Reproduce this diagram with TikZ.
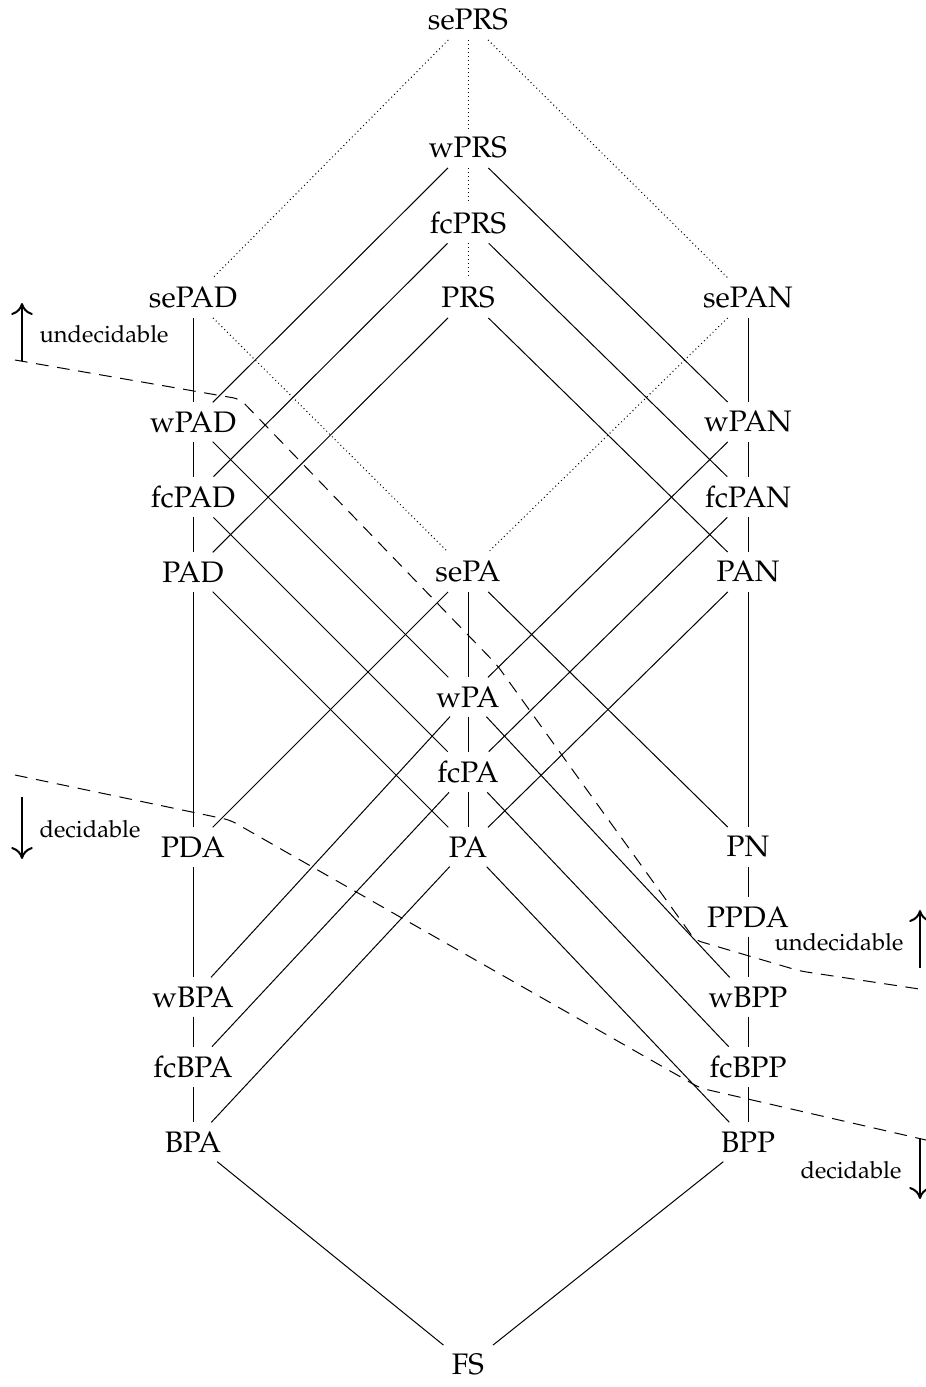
\documentclass[tikz,border=0pt]{standalone}
\usepackage[T1]{fontenc}
\usepackage{mathpazo}
\usetikzlibrary{arrows.meta}

\tikzset{
  cls/.style={font=\fontsize{8.9}{10}\selectfont, inner sep=2.6pt},
  note/.style={font=\fontsize{7.1}{9}\selectfont, inner sep=0pt},
  incl/.style={line width=0.3pt},
  weak/.style={line width=0.3pt, dash pattern=on 0.3pt off 0.9pt},
  border/.style={line width=0.3pt, dash pattern=on 3.8pt off 2.6pt, rounded corners=2pt},
  dir/.style={line width=0.6pt, -{To[length=3.6pt,width=6.5pt]}}
}

\begin{document}
\begin{tikzpicture}[x=0.3pt, y=-0.3pt]
  \useasboundingbox (0,0) rectangle (926,1387);

  % process classes
  \node[cls] (sePRS) at (468,20)  {sePRS};
  \node[cls] (wPRS)  at (468,148) {wPRS};
  \node[cls] (fcPRS) at (468,223) {fcPRS};
  \node[cls] (PRS)   at (468,298) {PRS};
  \node[cls] (sePAD) at (193,298) {sePAD};
  \node[cls] (sePAN) at (748,298) {sePAN};
  \node[cls] (wPAD)  at (193,422) {wPAD};
  \node[cls] (wPAN)  at (748,422) {wPAN};
  \node[cls] (fcPAD) at (193,497) {fcPAD};
  \node[cls] (fcPAN) at (748,497) {fcPAN};
  \node[cls] (PAD)   at (193,572) {PAD};
  \node[cls] (sePA)  at (468,572) {sePA};
  \node[cls] (PAN)   at (748,572) {PAN};
  \node[cls] (wPA)   at (468,697) {wPA};
  \node[cls] (fcPA)  at (468,772) {fcPA};
  \node[cls] (PDA)   at (193,847) {PDA};
  \node[cls] (PA)    at (468,847) {PA};
  \node[cls] (PN)    at (748,847) {PN};
  \node[cls] (PPDA)  at (748,917) {PPDA};
  \node[cls] (wBPA)  at (193,997) {wBPA};
  \node[cls] (wBPP)  at (748,997) {wBPP};
  \node[cls] (fcBPA) at (193,1067) {fcBPA};
  \node[cls] (fcBPP) at (748,1067) {fcBPP};
  \node[cls] (BPA)   at (193,1142) {BPA};
  \node[cls] (BPP)   at (748,1142) {BPP};
  \node[cls] (FS)    at (468,1365) {FS};

  % dotted inclusions
  \draw[weak] (sePRS) -- (wPRS);
  \draw[weak] (wPRS) -- (fcPRS);
  \draw[weak] (fcPRS) -- (PRS);
  \draw[weak] (sePRS) -- (sePAD);
  \draw[weak] (sePRS) -- (sePAN);
  \draw[weak] (sePAD) -- (sePA);
  \draw[weak] (sePAN) -- (sePA);

  % left column
  \draw[incl] (sePAD) -- (wPAD);
  \draw[incl] (wPAD) -- (fcPAD);
  \draw[incl] (fcPAD) -- (PAD);
  \draw[incl] (PAD) -- (PDA);
  \draw[incl] (PDA) -- (wBPA);
  \draw[incl] (wBPA) -- (fcBPA);
  \draw[incl] (fcBPA) -- (BPA);

  % right column
  \draw[incl] (sePAN) -- (wPAN);
  \draw[incl] (wPAN) -- (fcPAN);
  \draw[incl] (fcPAN) -- (PAN);
  \draw[incl] (PAN) -- (PN);
  \draw[incl] (PN) -- (PPDA);
  \draw[incl] (PPDA) -- (wBPP);
  \draw[incl] (wBPP) -- (fcBPP);
  \draw[incl] (fcBPP) -- (BPP);

  % middle column
  \draw[incl] (sePA) -- (wPA);
  \draw[incl] (wPA) -- (fcPA);
  \draw[incl] (fcPA) -- (PA);

  % diagonals from the PRS classes
  \draw[incl] (wPRS) -- (wPAD);
  \draw[incl] (wPRS) -- (wPAN);
  \draw[incl] (fcPRS) -- (fcPAD);
  \draw[incl] (fcPRS) -- (fcPAN);
  \draw[incl] (PRS) -- (PAD);
  \draw[incl] (PRS) -- (PAN);

  % diagonals towards the PA classes
  \draw[incl] (wPAD) -- (wPA);
  \draw[incl] (wPAN) -- (wPA);
  \draw[incl] (fcPAD) -- (fcPA);
  \draw[incl] (fcPAN) -- (fcPA);
  \draw[incl] (PAD) -- (PA);
  \draw[incl] (PAN) -- (PA);
  \draw[incl] (sePA) -- (PDA);
  \draw[incl] (sePA) -- (PN);

  % diagonals towards BPA / BPP
  \draw[incl] (wPA) -- (wBPA);
  \draw[incl] (wPA) -- (wBPP);
  \draw[incl] (fcPA) -- (fcBPA);
  \draw[incl] (fcPA) -- (fcBPP);
  \draw[incl] (PA) -- (BPA);
  \draw[incl] (PA) -- (BPP);
  \draw[incl] (BPA) -- (FS);
  \draw[incl] (BPP) -- (FS);

  % decidability borders
  \coordinate (b1a) at (15,360);
  \coordinate (b1b) at (240,399);
  \coordinate (b1c) at (497,665);
  \coordinate (b1d) at (695,940);
  \coordinate (b1e) at (800,971);
  \coordinate (b1f) at (926,990);
  \draw[border] (b1a) -- (b1b) -- (b1c) -- (b1d) -- (b1e) -- (b1f);

  \coordinate (b2a) at (15,775);
  \coordinate (b2b) at (230,820);
  \coordinate (b2c) at (700,1088);
  \coordinate (b2d) at (926,1140);
  \draw[border] (b2a) -- (b2b) -- (b2c) -- (b2d);

  % side markers
  \coordinate (l1s) at (22,361);  \coordinate (l1t) at (22,303);
  \coordinate (l2s) at (22,797);  \coordinate (l2t) at (22,859);
  \coordinate (r1s) at (920,968); \coordinate (r1t) at (920,910);
  \coordinate (r2s) at (920,1138); \coordinate (r2t) at (920,1199);
  \draw[dir] (l1s) -- (l1t);
  \draw[dir] (l2s) -- (l2t);
  \draw[dir] (r1s) -- (r1t);
  \draw[dir] (r2s) -- (r2t);

  \node[note, anchor=west] (lu) at (39,334) {undecidable};
  \node[note, anchor=west] (ld) at (39,829) {decidable};
  \node[note, anchor=east] (ru) at (904,942) {undecidable};
  \node[note, anchor=east] (rd) at (902,1170) {decidable};
\end{tikzpicture}
\end{document}
